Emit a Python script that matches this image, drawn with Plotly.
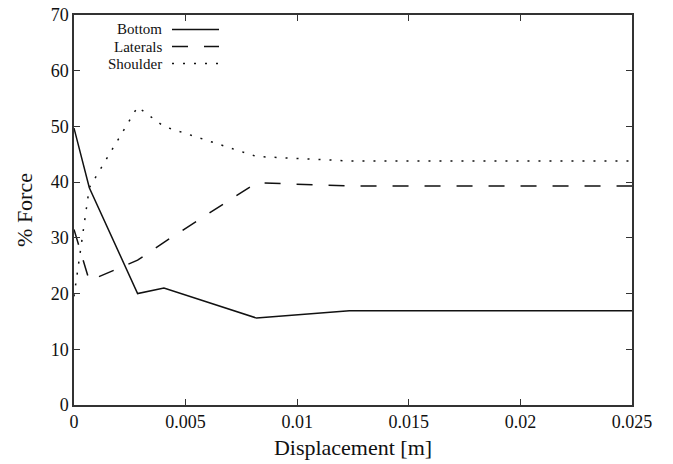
import plotly.graph_objects as go

displacement = [0.0, 0.000686, 0.00285, 0.00403, 0.00818, 0.01234, 0.025]
bottom = [49.7, 39.0, 20.0, 21.0, 15.6, 16.9, 16.9]
laterals = [31.5, 22.3, 26.0, 29.2, 39.9, 39.3, 39.3]
shoulder = [19.5, 39.0, 53.5, 50.0, 44.6, 43.8, 43.8]

series_names = ["Bottom", "Laterals", "Shoulder"]
series_values = [bottom, laterals, shoulder]
series_dash = ["solid", "16px,16px", "2px,9px"]

x_ticks = [0, 0.005, 0.01, 0.015, 0.02, 0.025]
x_tick_labels = ["0", "0.005", "0.01", "0.015", "0.02", "0.025"]
y_ticks = [0, 10, 20, 30, 40, 50, 60, 70]

FONT = "Liberation Serif, Times New Roman, serif"

fig = go.Figure()
for name, vals, dash in zip(series_names, series_values, series_dash):
    fig.add_trace(go.Scatter(x=displacement, y=vals, mode="lines", name=name,
                             line=dict(color="#111111", width=1.5, dash=dash),
                             showlegend=False))

# manual legend: right-aligned text, sample line to the right
W, H = 673, 464
L, R, T, B = 74, 41, 15, 59
pw, ph = W - L - R, H - T - B
def px(x): return (x - L) / pw
def py(y): return 1 - (y - T) / ph
leg_rows = [29.5, 46.5, 63.5]
for name, dash, yy in zip(series_names, series_dash, leg_rows):
    fig.add_annotation(xref="paper", yref="paper", x=px(163), y=py(yy),
                       text=name, showarrow=False, xanchor="right", yanchor="middle",
                       borderpad=0,
                       font=dict(family=FONT, size=15, color="#111111"))
    fig.add_shape(type="line", xref="paper", yref="paper",
                  x0=px(172), x1=px(219), y0=py(yy), y1=py(yy),
                  line=dict(color="#111111", width=1.5, dash=dash))

axis_common = dict(showline=True, linecolor="#333333", linewidth=1.5, mirror="ticks",
                   ticks="inside", ticklen=6, tickcolor="#333333", tickwidth=1,
                   showgrid=False, zeroline=False, automargin=False,
                   tickfont=dict(family=FONT, size=18, color="#111111"))

fig.update_xaxes(range=[0, 0.025], tickvals=x_ticks, ticktext=x_tick_labels,
                 title=dict(text="Displacement [m]", font=dict(family=FONT, size=22, color="#111111"),
                            standoff=8),
                 **axis_common)
fig.update_yaxes(range=[0, 70], tickvals=y_ticks,
                 title=dict(text="% Force", font=dict(family=FONT, size=22, color="#111111"),
                            standoff=12),
                 **axis_common)

fig.update_layout(width=W, height=H, margin=dict(l=L, r=R, t=T, b=B),
                  paper_bgcolor="white", plot_bgcolor="white",
                  font=dict(family=FONT, color="#111111"))

fig.write_html("out.html")
